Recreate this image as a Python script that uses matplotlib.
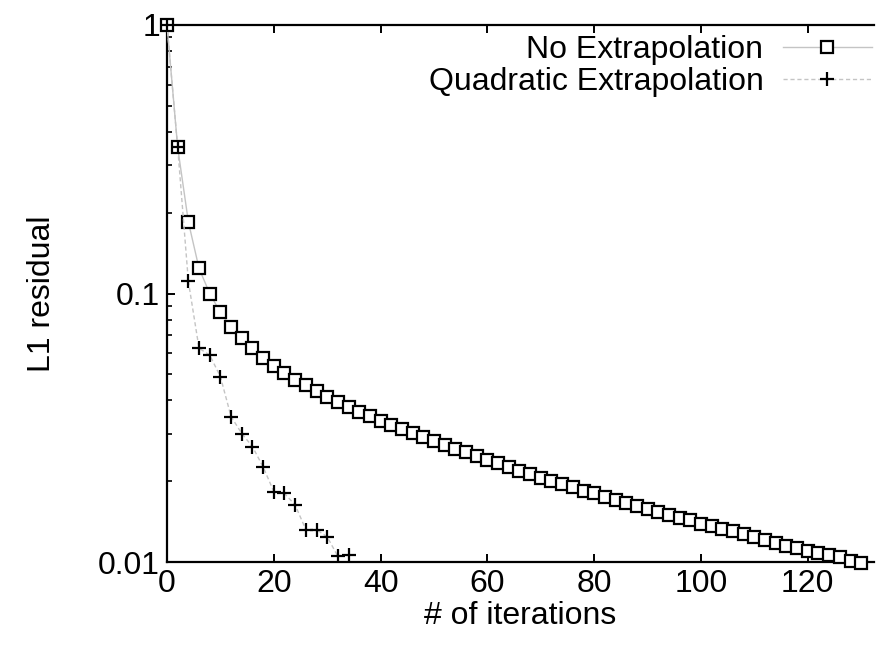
import numpy as np
import matplotlib
matplotlib.use("Agg")
import matplotlib.pyplot as plt
from matplotlib.ticker import FixedLocator, LogLocator, NullFormatter

plt.rcParams['font.family'] = ['Liberation Sans', 'DejaVu Sans']

# residual per iteration
iter_noext = np.arange(0, 131, 2)
res_noext = [1.0, 0.35, 0.185, 0.124, 0.100, 0.085, 0.075, 0.068, 0.0625,
             0.0575, 0.0535, 0.0505, 0.0478, 0.0455, 0.0433, 0.0413, 0.0395,
             0.0378, 0.0363, 0.0349, 0.0336, 0.0324, 0.0313, 0.0302, 0.0292,
             0.0282, 0.0273, 0.0264, 0.0256, 0.0248, 0.0240, 0.0233, 0.0226,
             0.0219, 0.0212, 0.0206, 0.0200, 0.0195, 0.0190, 0.0184, 0.0180,
             0.0175, 0.0170, 0.0166, 0.0162, 0.0158, 0.0154, 0.0150, 0.0146,
             0.0143, 0.0139, 0.0136, 0.0133, 0.0130, 0.0127, 0.0124, 0.0121,
             0.0118, 0.0115, 0.0113, 0.0110, 0.0108, 0.0106, 0.0104, 0.0101,
             0.0099]

iter_quad = np.arange(0, 35, 2)
res_quad = [1.0, 0.35, 0.111, 0.0625, 0.059, 0.049, 0.0348, 0.0301, 0.0269,
            0.0226, 0.0183, 0.0180, 0.0163, 0.0132, 0.0132, 0.0124, 0.0105,
            0.0106]

xticks = [0, 20, 40, 60, 80, 100, 120]
yticks = [0.01, 0.1, 1]
ytick_labels = ["0.01", "0.1", "1"]

W, H = 878, 655
fig = plt.figure(figsize=(W / 100, H / 100), dpi=100)
ax = fig.add_axes([167 / W, 1 - 562 / H, (874 - 167) / W, (562 - 25) / H])

ax.plot(iter_noext, res_noext, color="#c4c4c4", lw=1.0, ls="-",
        marker="s", ms=8, mfc="white", mec="black", mew=1.6,
        clip_on=False, zorder=3, label="No Extrapolation")
ax.plot(iter_quad, res_quad, color="#c4c4c4", lw=1.0, ls=(0, (3, 2)),
        marker="+", ms=10, mec="black", mew=1.6,
        clip_on=False, zorder=4, label="Quadratic Extrapolation")

ax.set_yscale("log")
ax.set_ylim(0.01, 1)
ax.set_xlim(0, 132.4)

ax.xaxis.set_major_locator(FixedLocator(xticks))
ax.yaxis.set_major_locator(FixedLocator(yticks))
ax.set_yticklabels(ytick_labels)
ax.yaxis.set_minor_locator(LogLocator(base=10, subs=np.arange(2, 10)))
ax.yaxis.set_minor_formatter(NullFormatter())

ax.spines["right"].set_visible(False)
for s in ["left", "top", "bottom"]:
    ax.spines[s].set_linewidth(1.6)

ax.tick_params(axis="both", which="major", direction="in", length=6,
               width=1.4, labelsize=23, pad=5)
ax.tick_params(axis="x", top=True, bottom=True)
ax.tick_params(axis="y", left=True, right=False)
ax.tick_params(axis="y", which="minor", direction="in", length=3.5,
               width=1.2, left=True, right=False)

ax.set_xlabel("# of iterations", fontsize=23)
ax.set_ylabel("L1 residual", fontsize=23)
ax.xaxis.set_label_coords(0.5, -0.072)
ax.yaxis.set_label_coords(-0.156, 0.5)

ax.legend(loc="upper right", bbox_to_anchor=(872 / W, 1 - 35 / H),
          bbox_transform=fig.transFigure, frameon=False, markerfirst=False,
          fontsize=23, handlelength=2.8, handletextpad=0.6,
          labelspacing=0.06, borderpad=0, borderaxespad=0)

fig.savefig("out.png", dpi=100)
